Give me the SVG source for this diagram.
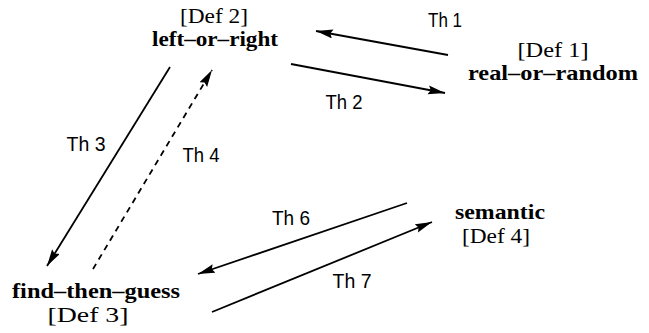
<svg xmlns="http://www.w3.org/2000/svg" width="649" height="333" viewBox="0 0 649 333">
<defs>
<marker id="ah" markerUnits="userSpaceOnUse" markerWidth="18" markerHeight="10" refX="17" refY="4.5" orient="auto">
<path d="M0,0 L17,4.5 L0,9 L2.5,4.5 z" fill="#000"/>
</marker>
</defs>
<style>
.def{font-family:"Liberation Serif","Times New Roman",serif;font-size:21px;fill:#000;text-anchor:middle}
.nm{font-family:"Liberation Serif","Times New Roman",serif;font-size:21px;font-weight:bold;fill:#000;text-anchor:middle}
.th{font-family:"Liberation Sans",Arial,sans-serif;font-size:20px;fill:#000;text-anchor:middle}
.c{stroke:#000;stroke-width:1.8;fill:none;marker-end:url(#ah)}
.d{stroke-dasharray:6,5}
</style>
<rect width="649" height="333" fill="#fff"/>
<g id="def2">
<text class="def" x="214" y="23" textLength="68" lengthAdjust="spacingAndGlyphs">[Def 2]</text>
<text class="nm" x="215" y="46" textLength="126" lengthAdjust="spacingAndGlyphs">left–or–right</text>
</g>
<g id="def1">
<text class="def" x="553" y="57" textLength="71" lengthAdjust="spacingAndGlyphs">[Def 1]</text>
<text class="nm" x="553" y="80" textLength="170" lengthAdjust="spacingAndGlyphs">real–or–random</text>
</g>
<g id="def3">
<text class="nm" x="96" y="298" textLength="168" lengthAdjust="spacingAndGlyphs">find–then–guess</text>
<text class="def" x="88" y="322" textLength="81" lengthAdjust="spacingAndGlyphs">[Def 3]</text>
</g>
<g id="def4">
<text class="nm" x="500" y="219" textLength="90" lengthAdjust="spacingAndGlyphs">semantic</text>
<text class="def" x="496" y="243" textLength="68" lengthAdjust="spacingAndGlyphs">[Def 4]</text>
</g>
<g id="connectors">
<line class="c" x1="448" y1="55" x2="316" y2="31"/>
<line class="c" x1="291" y1="64" x2="445" y2="93"/>
<line class="c" x1="170" y1="67" x2="47" y2="266"/>
<line class="c d" x1="93" y1="269" x2="212" y2="70"/>
<line class="c" x1="407" y1="203" x2="198" y2="274"/>
<line class="c" x1="212" y1="312" x2="432" y2="222"/>
<text class="th" x="445" y="27" textLength="34" lengthAdjust="spacingAndGlyphs">Th 1</text>
<text class="th" x="344" y="109" textLength="37" lengthAdjust="spacingAndGlyphs">Th 2</text>
<text class="th" x="86" y="151" textLength="39" lengthAdjust="spacingAndGlyphs">Th 3</text>
<text class="th" x="201" y="162" textLength="37" lengthAdjust="spacingAndGlyphs">Th 4</text>
<text class="th" x="291" y="225" textLength="38" lengthAdjust="spacingAndGlyphs">Th 6</text>
<text class="th" x="352" y="288" textLength="39" lengthAdjust="spacingAndGlyphs">Th 7</text>
</g>
</svg>
